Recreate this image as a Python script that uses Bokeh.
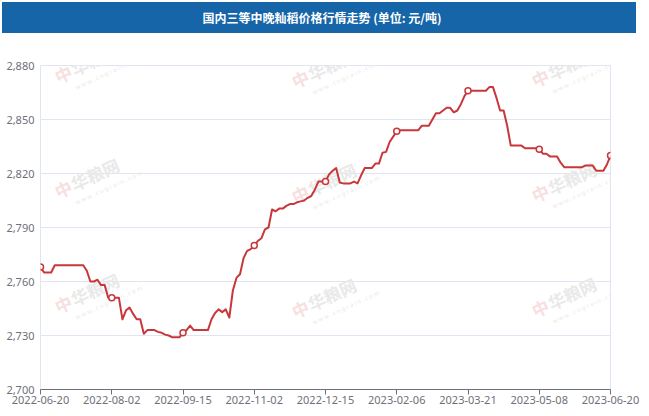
import math
from bokeh.plotting import figure
from bokeh.layouts import column
from bokeh.models import FixedTicker, NumeralTickFormatter, Label, Range1d, Div
from bokeh.embed import file_html
from bokeh.resources import INLINE

# ---------------- data ----------------
title_text = "国内三等中晚籼稻价格行情走势 (单位: 元/吨)"
tick_labels = ["2022-06-20", "2022-08-02", "2022-09-15", "2022-11-02", "2022-12-15",
               "2023-02-06", "2023-03-21", "2023-05-08", "2023-06-20"]
y_ticks = [2700, 2730, 2760, 2790, 2820, 2850, 2880]
prices = [
    2768, 2765, 2765, 2765, 2769, 2769, 2769, 2769, 2769, 2769,
    2769, 2769, 2769, 2766, 2760, 2760, 2761, 2758, 2758, 2751,
    2751, 2751, 2751, 2739, 2744, 2745.5, 2742, 2739, 2739, 2731,
    2733, 2733, 2733, 2732, 2731.5, 2730.5, 2730, 2729, 2729, 2729,
    2731.5, 2733, 2735.5, 2733, 2733, 2733, 2733, 2733, 2739, 2742.5,
    2744.5, 2743, 2744.5, 2740, 2755, 2762, 2764, 2773, 2777, 2778,
    2780, 2782.5, 2784, 2789, 2790, 2800, 2799, 2800.5, 2800.5, 2802,
    2803, 2803, 2804, 2804.5, 2805, 2806.5, 2807.5, 2811, 2815.5, 2815.5,
    2815.5, 2819.5, 2821.5, 2823, 2815, 2814.5, 2814.5, 2814.5, 2815.5, 2814.5,
    2819, 2823, 2823, 2823, 2825.5, 2825.5, 2831.5, 2832, 2837.5, 2840.5,
    2843.5, 2844, 2844, 2844, 2844, 2844, 2844, 2846.5, 2846.5, 2846.5,
    2850, 2853.5, 2853.5, 2855, 2856.5, 2856.5, 2854, 2855, 2858.5, 2863,
    2866, 2866, 2866, 2866, 2866, 2866, 2868, 2868, 2862, 2855,
    2855, 2846.5, 2835.5, 2835.5, 2835.5, 2835.5, 2834, 2834, 2834, 2834,
    2833.5, 2831, 2831, 2829.5, 2829.5, 2829.5, 2826, 2823.5, 2823.5, 2823.5,
    2823.5, 2823.5, 2823.5, 2824.5, 2824.5, 2824.5, 2821.5, 2821.5, 2821.5, 2825,
    2830,
]

# ---------------- derived ----------------
TICK_STEP = (len(prices) - 1) // (len(tick_labels) - 1)
idx = list(range(len(prices)))
label_idx = [i * TICK_STEP for i in range(len(tick_labels))]
marker_vals = [prices[i] for i in label_idx]

BLUE = "#1565a8"
RED = "#c8373a"
AXIS_GREY = "#6E7079"
GRID = "#E0E6F1"

# ---------------- header ----------------
header = Div(text=title_text, width=634, height=31, margin=(2, 0, 0, 2),
             styles={"background-color": BLUE, "color": "white",
                     "font-family": "'Noto Sans CJK SC', sans-serif",
                     "font-size": "12px", "font-weight": "bold",
                     "text-align": "center", "line-height": "31px",
                     "padding-left": "6px", "box-sizing": "border-box"})

# ---------------- main chart ----------------
p = figure(width=645, height=378, x_range=Range1d(0, len(prices) - 1),
           y_range=Range1d(y_ticks[0], y_ticks[-1]),
           toolbar_location=None, output_backend="svg",
           min_border_left=40, min_border_right=35, min_border_top=32,
           min_border_bottom=22)
p.background_fill_color = "white"
p.border_fill_color = "white"
p.outline_line_color = GRID

p.xgrid.visible = False
p.ygrid.ticker = FixedTicker(ticks=y_ticks)
p.ygrid.grid_line_color = GRID

xa = p.xaxis[0]
xa.ticker = FixedTicker(ticks=label_idx)
xa.major_label_overrides = {i: lab for i, lab in zip(label_idx, tick_labels)}
xa.axis_line_color = AXIS_GREY
xa.major_tick_line_color = AXIS_GREY
xa.major_tick_out = 5
xa.major_tick_in = 0
xa.minor_tick_line_color = None
xa.major_label_standoff = 1
xa.major_label_text_color = AXIS_GREY
xa.major_label_text_font = "Noto Sans"
xa.major_label_text_font_size = "11px"

ya = p.yaxis[0]
ya.ticker = FixedTicker(ticks=y_ticks)
ya.formatter = NumeralTickFormatter(format="0,0")
ya.axis_line_color = None
ya.major_tick_line_color = None
ya.minor_tick_line_color = None
ya.major_tick_out = 0
ya.major_label_standoff = 6
ya.major_label_text_color = AXIS_GREY
ya.major_label_text_font = "Noto Sans"
ya.major_label_text_font_size = "11px"

# watermark tiles (decoration)
PX_PER_IDX = 570 / (len(prices) - 1)
PX_PER_VAL = 324 / (y_ticks[-1] - y_ticks[0])


def to_data(px, py):
    return (px - 40) / PX_PER_IDX, y_ticks[-1] - (py - 65) / PX_PER_VAL


wm_starts = [(60, 88), (60, 203), (60, 318), (297, 93), (297, 208), (297, 323),
             (537, 92), (537, 207), (537, 322)]
ang = 0.43
for px, py in wm_starts:
    x, y = to_data(px, py)
    p.add_layout(Label(x=x, y=y, text="中", angle=ang, text_color="#f7e0e0",
                       text_font="Noto Sans CJK SC", text_font_style="bold",
                       text_font_size="17px", level="underlay"))
    p.add_layout(Label(x=x, y=y, x_offset=18 * math.cos(ang), y_offset=18 * math.sin(ang),
                       text="华粮网", angle=ang, text_color="#e9e9e9",
                       text_font="Noto Sans CJK SC", text_font_style="bold",
                       text_font_size="17px", level="underlay"))
    p.add_layout(Label(x=x, y=y, x_offset=17, y_offset=-3, text="w w w . c n g r a i n . c o m",
                       angle=ang, text_color="#e9e9e9", text_font="Noto Sans",
                       text_font_size="6px", level="underlay"))

p.line(idx, prices, line_color=RED, line_width=2, line_join="round")
p.scatter(label_idx, marker_vals, size=6, fill_color="white", line_color=RED, line_width=1.5)

layout = column(header, p, spacing=0)
open("out.html", "w").write(file_html(layout, INLINE))
